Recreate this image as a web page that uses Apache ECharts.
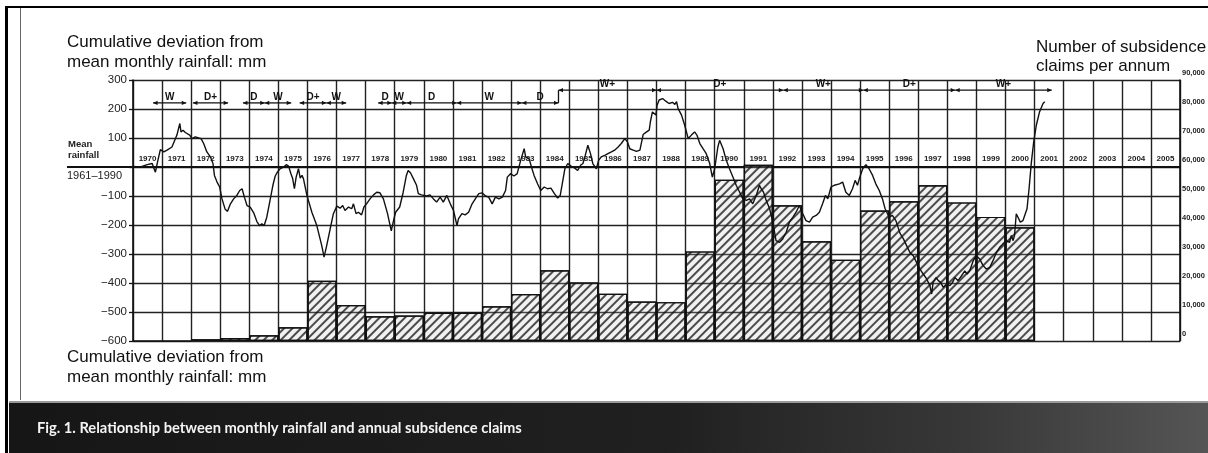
<!DOCTYPE html>
<html><head><meta charset="utf-8">
<script src="https://cdn.jsdelivr.net/npm/echarts@6/dist/echarts.min.js"></script>
<style>html,body{margin:0;padding:0;background:#fff;}#c{width:1208px;height:453px;}</style>
</head><body><div id="c"></div>
<script>
// ---- DATA ----
const years = ['1970','1971','1972','1973','1974','1975','1976','1977','1978','1979','1980','1981','1982','1983','1984','1985','1986','1987','1988','1989','1990','1991','1992','1993','1994','1995','1996','1997','1998','1999','2000','2001','2002','2003','2004','2005'];
// annual subsidence claims (right axis)
const claims = [0,0,600,1000,2000,4700,20800,12400,8500,8800,9700,9700,12000,16200,24400,20200,16300,13600,13400,30900,55600,60800,46800,34400,28000,45000,48200,53700,47800,42800,39200,null,null,null,null,null];
// cumulative deviation from mean monthly rainfall (mm), by decimal year
const rainYears = [1970.00,1970.26,1970.49,1970.66,1970.77,1970.85,1970.94,1971.06,1971.17,1971.34,1971.46,1971.51,1971.61,1971.65,1971.72,1971.80,1971.86,1971.95,1972.03,1972.14,1972.26,1972.34,1972.43,1972.54,1972.66,1972.75,1972.80,1972.89,1972.98,1973.06,1973.17,1973.25,1973.35,1973.46,1973.57,1973.67,1973.75,1973.83,1973.92,1974.03,1974.15,1974.26,1974.35,1974.43,1974.51,1974.60,1974.70,1974.81,1974.89,1974.97,1975.06,1975.18,1975.27,1975.35,1975.43,1975.49,1975.55,1975.61,1975.69,1975.75,1975.81,1975.86,1975.98,1976.15,1976.32,1976.49,1976.57,1976.66,1976.78,1976.89,1977.01,1977.12,1977.21,1977.29,1977.41,1977.52,1977.58,1977.67,1977.75,1977.86,1977.94,1978.03,1978.15,1978.27,1978.38,1978.49,1978.61,1978.75,1978.88,1978.97,1979.03,1979.17,1979.29,1979.40,1979.46,1979.54,1979.64,1979.75,1979.81,1979.92,1980.10,1980.21,1980.33,1980.44,1980.56,1980.67,1980.79,1980.91,1981.02,1981.14,1981.19,1981.31,1981.42,1981.54,1981.66,1981.77,1981.89,1982.00,1982.12,1982.23,1982.35,1982.46,1982.58,1982.70,1982.81,1982.87,1982.98,1983.10,1983.21,1983.33,1983.45,1983.50,1983.62,1983.70,1983.79,1983.91,1984.02,1984.14,1984.25,1984.37,1984.49,1984.60,1984.69,1984.77,1984.85,1984.95,1985.06,1985.18,1985.29,1985.39,1985.47,1985.55,1985.64,1985.73,1985.81,1985.93,1986.01,1986.10,1986.22,1986.33,1986.45,1986.56,1986.68,1986.79,1986.91,1987.00,1987.08,1987.20,1987.31,1987.43,1987.54,1987.66,1987.75,1987.79,1987.86,1987.91,1987.98,1988.02,1988.09,1988.21,1988.32,1988.43,1988.55,1988.63,1988.69,1988.74,1988.86,1988.97,1989.09,1989.20,1989.31,1989.39,1989.49,1989.60,1989.71,1989.83,1989.92,1990.00,1990.11,1990.17,1990.29,1990.40,1990.51,1990.63,1990.74,1990.86,1990.97,1991.09,1991.20,1991.31,1991.43,1991.54,1991.60,1991.68,1991.77,1991.89,1992.00,1992.11,1992.23,1992.34,1992.46,1992.57,1992.69,1992.80,1992.91,1993.03,1993.14,1993.26,1993.37,1993.49,1993.60,1993.71,1993.81,1993.89,1994.00,1994.11,1994.29,1994.40,1994.51,1994.63,1994.74,1994.83,1994.91,1994.99,1995.09,1995.20,1995.31,1995.43,1995.54,1995.66,1995.77,1995.86,1996.00,1996.11,1996.23,1996.37,1996.49,1996.60,1996.71,1996.83,1996.94,1997.06,1997.17,1997.29,1997.40,1997.46,1997.51,1997.61,1997.69,1997.77,1997.86,1997.97,1998.09,1998.18,1998.26,1998.37,1998.49,1998.60,1998.68,1998.77,1998.89,1999.00,1999.11,1999.23,1999.34,1999.46,1999.57,1999.69,1999.80,1999.91,2000.03,2000.14,2000.20,2000.26,2000.31,2000.37,2000.43,2000.51,2000.60,2000.66,2000.74,2000.81,2000.89,2000.97,2001.06,2001.17,2001.29,2001.35];
const rainValues = [2,0,8,12,-18,20,60,52,58,69,98,110,150,121,127,119,123,110,98,104,100,98,81,52,35,12,-29,-52,-69,-110,-146,-153,-127,-110,-98,-81,-75,-104,-133,-138,-158,-188,-202,-196,-202,-173,-121,-63,-31,-17,-6,0,8,3,-23,-40,-75,-35,-6,-38,-29,-40,-98,-156,-202,-271,-311,-271,-213,-161,-135,-142,-133,-150,-138,-144,-127,-161,-156,-165,-138,-127,-110,-96,-87,-89,-110,-160,-220,-180,-156,-138,-87,-29,-12,-20,-40,-63,-92,-96,-100,-96,-110,-121,-104,-121,-98,-127,-150,-202,-179,-161,-165,-156,-127,-110,-92,-89,-100,-104,-127,-104,-110,-104,-81,-35,-23,-31,-23,23,63,35,29,0,-29,-58,-81,-69,-75,-73,-92,-107,-98,-52,-6,12,3,-3,-12,6,12,40,75,46,12,-6,23,35,40,46,52,58,69,81,98,87,63,58,54,58,112,121,127,156,190,196,179,213,231,236,227,219,223,216,225,202,179,144,98,110,121,110,81,63,46,12,-35,-6,69,92,63,23,-6,-35,-63,-87,-110,-115,-110,-127,-98,-63,-75,-87,-115,-144,-190,-254,-260,-248,-225,-190,-173,-156,-133,-161,-185,-190,-173,-167,-156,-127,-98,-110,-69,-63,-58,-52,-87,-98,-75,-46,-63,-35,-6,8,-6,-29,-58,-81,-110,-144,-173,-167,-185,-228,-248,-271,-294,-306,-329,-352,-369,-386,-409,-438,-398,-381,-392,-398,-415,-404,-409,-398,-381,-392,-375,-358,-369,-358,-323,-306,-317,-340,-352,-346,-323,-294,-277,-265,-254,-260,-236,-254,-236,-161,-167,-190,-185,-167,-144,-75,17,87,144,190,219,225];
// wet / dry phase annotations
const phaseLabels = ['W','D+','D','W','D+','W','D','W','D','W','D','W+','D+','W+','D+','W+'];
const phaseStart  = [1970.69,1972.06,1973.78,1974.53,1975.73,1976.65,1978.43,1978.90,1979.41,1981.13,1983.37,1984.63,1988.00,1992.36,1995.11,1998.27];
const phaseEnd    = [1971.83,1973.27,1974.53,1975.44,1976.65,1977.33,1978.90,1979.41,1981.13,1983.37,1984.63,1988.00,1992.36,1995.11,1998.27,2001.59];
const phaseLevel  = [221,221,221,221,221,221,221,221,221,221,221,265,265,265,265,265];
const leftTicks = {min: -600, max: 300, step: 100};
const rightTicks = {min: 0, max: 90000, step: 10000};

// ---- CHART ----
const chart = echarts.init(document.getElementById('c'), null, {renderer: 'canvas'});
const FONT = '"Liberation Sans", Arial, sans-serif';
const gridColor = '#222';
const GRID = {left: 133, right: 28, top: 80, bottom: 112};
const plotH = 453 - GRID.top - GRID.bottom;
// place the year-label axis on the zero line of the rainfall axis
const zeroOffset = -plotH * (leftTicks.max - 0) / (leftTicks.max - leftTicks.min);

const option = {
  backgroundColor: '#ffffff',
  animation: false,
  grid: Object.assign({containLabel: false, outerBoundsMode: 'none'}, GRID),
  xAxis: [
    {
      type: 'category', data: years, position: 'top', offset: zeroOffset, boundaryGap: true,
      axisLine: {show: true, onZero: false, lineStyle: {color: '#111', width: 2.2}},
      axisTick: {show: false},
      axisLabel: {interval: 0, margin: 4, fontSize: 8, fontWeight: 'bold', color: '#222', fontFamily: FONT},
      splitLine: {show: true, interval: 0, lineStyle: {color: gridColor, width: 1.4}}
    },
    {
      type: 'value', min: 1970, max: 2006, show: false,
      axisLine: {onZero: false}, splitLine: {show: false}
    }
  ],
  yAxis: [
    {
      type: 'value', position: 'left', min: leftTicks.min, max: leftTicks.max, interval: leftTicks.step,
      axisLine: {show: true, onZero: false, lineStyle: {color: '#111', width: 1.6}},
      axisTick: {show: true, length: 4, lineStyle: {color: '#111', width: 1.3}},
      axisLabel: {
        margin: 6, fontSize: 11.5, color: '#222', fontFamily: FONT,
        formatter: v => v === 0 ? '' : (v < 0 ? '\u2212' + (-v) : String(v))
      },
      splitLine: {show: true, lineStyle: {color: gridColor, width: 1.4}}
    },
    {
      type: 'value', position: 'right', min: rightTicks.min, max: rightTicks.max, interval: rightTicks.step,
      axisLine: {show: true, onZero: false, lineStyle: {color: '#111', width: 1.6}},
      axisTick: {show: false},
      axisLabel: {
        margin: 2, fontSize: 7.5, color: '#222', fontWeight: 'bold', fontFamily: FONT,
        verticalAlign: 'bottom', padding: [0, 0, 3, 0],
        formatter: v => v.toLocaleString('en-US')
      },
      splitLine: {show: false}
    }
  ],
  series: [
    {
      type: 'bar', name: 'claims', xAxisIndex: 0, yAxisIndex: 1, data: claims,
      barCategoryGap: '0%', barGap: '0%',
      itemStyle: {
        color: 'rgba(190,190,190,0.22)', borderColor: '#111', borderWidth: 1.2,
        decal: {symbol: 'rect', symbolSize: 1, dashArrayX: [1, 0], dashArrayY: [1.3, 3.4], rotation: -Math.PI / 4, color: 'rgba(20,20,20,0.75)'}
      },
      z: 1
    },
    {
      type: 'line', name: 'rainfall', xAxisIndex: 1, yAxisIndex: 0,
      data: rainYears.map((x, i) => [x, rainValues[i]]),
      showSymbol: false, symbol: 'none', smooth: false,
      lineStyle: {color: '#111', width: 1.4}, z: 5
    },
    {
      type: 'custom', name: 'phases', xAxisIndex: 1, yAxisIndex: 0, clip: false,
      data: phaseStart.map((s, i) => [s, phaseEnd[i], phaseLevel[i]]),
      encode: {x: [0, 1], y: 2},
      renderItem: function (params, api) {
        const i = params.dataIndex;
        const s = api.value(0), e = api.value(1), lv = api.value(2);
        const p1 = api.coord([s, lv]), p2 = api.coord([e, lv]);
        const y = p1[1];
        const st = {stroke: '#111', lineWidth: 1.3};
        const children = [
          {type: 'line', shape: {x1: p1[0], y1: y, x2: p2[0], y2: y}, style: st},
          {type: 'polygon', shape: {points: [[p2[0], y], [p2[0] - 4.5, y - 2.2], [p2[0] - 4.5, y + 2.2]]}, style: {fill: '#111'}},
          {type: 'polygon', shape: {points: [[p1[0], y], [p1[0] + 4.5, y - 2.2], [p1[0] + 4.5, y + 2.2]]}, style: {fill: '#111'}},
          {type: 'text', style: {text: phaseLabels[i], x: (p1[0] + p2[0]) / 2, y: y - 1, align: 'center', verticalAlign: 'bottom', font: 'bold 10px ' + FONT, fill: '#111'}}
        ];
        if (i > 0 && phaseLevel[i - 1] !== lv) {
          const p0 = api.coord([s, phaseLevel[i - 1]]);
          children.push({type: 'line', shape: {x1: p1[0], y1: p0[1], x2: p1[0], y2: y}, style: st});
        }
        return {type: 'group', children: children};
      },
      z: 6
    }
  ]
};
chart.setOption(option);

// ---- DECORATION / TEXT ----
const zeroY = chart.convertToPixel({yAxisIndex: 0}, 0);
const gridLeft = chart.convertToPixel({xAxisIndex: 1}, 1970);
const titleFont = '17px ' + FONT;
chart.setOption({
  graphic: [
    {type: 'rect', shape: {x: 5, y: 6, width: 1203, height: 2}, style: {fill: '#000'}, silent: true},
    {type: 'rect', shape: {x: 5, y: 6, width: 3, height: 447}, style: {fill: '#000'}, silent: true},
    {type: 'line', shape: {x1: 20.5, y1: 8, x2: 20.5, y2: 400}, style: {stroke: '#666', lineWidth: 1}, silent: true},
    {type: 'text', style: {text: 'Cumulative deviation from', x: 67, y: 42, verticalAlign: 'middle', font: titleFont, fill: '#111'}},
    {type: 'text', style: {text: 'mean monthly rainfall: mm', x: 67, y: 62, verticalAlign: 'middle', font: titleFont, fill: '#111'}},
    {type: 'text', style: {text: 'Cumulative deviation from', x: 67, y: 357, verticalAlign: 'middle', font: titleFont, fill: '#111'}},
    {type: 'text', style: {text: 'mean monthly rainfall: mm', x: 67, y: 377, verticalAlign: 'middle', font: titleFont, fill: '#111'}},
    {type: 'text', style: {text: 'Number of subsidence', x: 1036, y: 47, verticalAlign: 'middle', font: titleFont, fill: '#111'}},
    {type: 'text', style: {text: 'claims per annum', x: 1036, y: 66, verticalAlign: 'middle', font: titleFont, fill: '#111'}},
    {type: 'text', style: {text: 'Mean', x: 68, y: zeroY - 23, verticalAlign: 'middle', font: 'bold 9.5px ' + FONT, fill: '#222'}},
    {type: 'text', style: {text: 'rainfall', x: 68, y: zeroY - 12, verticalAlign: 'middle', font: 'bold 9.5px ' + FONT, fill: '#222'}},
    {type: 'line', shape: {x1: 67, y1: zeroY, x2: gridLeft, y2: zeroY}, style: {stroke: '#111', lineWidth: 2}, silent: true},
    {type: 'text', style: {text: '1961\u20131990', x: 67, y: zeroY + 9, verticalAlign: 'middle', font: '11px ' + FONT, fill: '#222'}},
    {type: 'rect', shape: {x: 9, y: 403, width: 1199, height: 50},
      style: {fill: new echarts.graphic.LinearGradient(0, 0, 1, 0, [
        {offset: 0, color: '#161616'}, {offset: 0.55, color: '#202020'}, {offset: 0.8, color: '#383838'}, {offset: 1, color: '#555'}])}, silent: true},
    {type: 'rect', shape: {x: 9, y: 401, width: 1199, height: 2}, style: {fill: '#9a9a9a'}, silent: true},
    {type: 'text', style: {text: 'Fig. 1. Relationship between monthly rainfall and annual subsidence claims', x: 37, y: 428, verticalAlign: 'middle', font: 'bold 14.7px Lato, "Open Sans", sans-serif', fill: '#f4f4f4'}}
  ]
});
</script>
</body></html>
